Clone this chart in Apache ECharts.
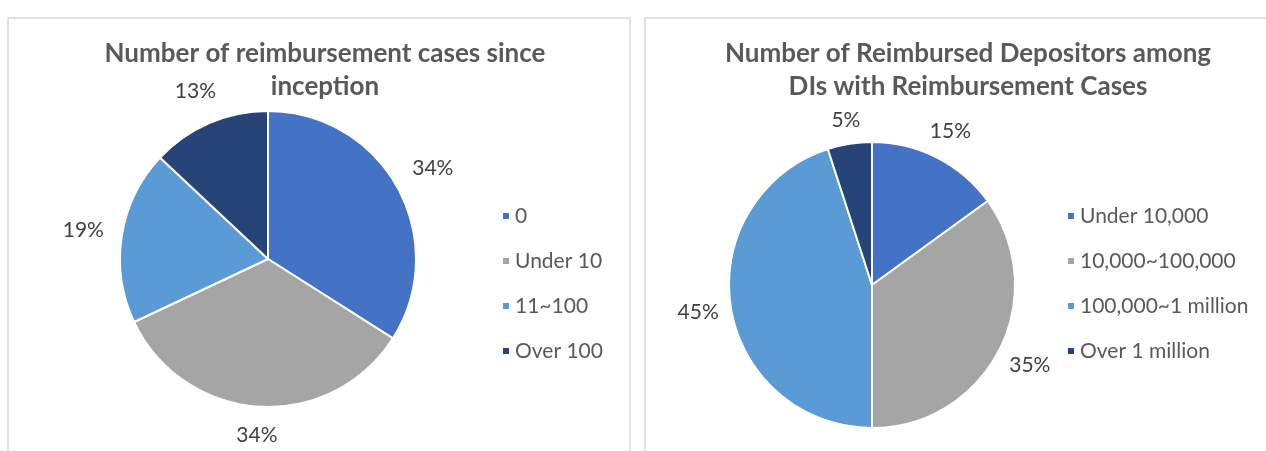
<!DOCTYPE html>
<html>
<head>
<meta charset="utf-8">
<script src="https://cdn.jsdelivr.net/npm/echarts@6/dist/echarts.min.js"></script>
<style>
  html, body { margin: 0; padding: 0; background: #fff; }
  #chart { width: 1266px; height: 451px; }
</style>
</head>
<body>
<div id="chart"></div>
<script>
// left chart: reimbursement cases
var casesTitle = 'Number of reimbursement cases since\ninception';
var casesNames = ['0', 'Under 10', '11~100', 'Over 100'];
var casesValues = [34, 34, 19, 13];

// right chart: reimbursed depositors
var depTitle = 'Number of Reimbursed Depositors among\nDIs with Reimbursement Cases';
var depNames = ['Under 10,000', '10,000~100,000', '100,000~1 million', 'Over 1 million'];
var depValues = [15, 35, 45, 5];

var colors = ['#4472C4', '#A5A5A5', '#5B9BD5', '#264478'];
var FONT = 'Lato';

function pieData(names, values) {
  var out = [];
  for (var i = 0; i < names.length; i++) {
    out.push({ name: names[i], value: values[i] });
  }
  return out;
}

// put each label outside its slice, along the slice's middle direction
function outsideLabel(gap) {
  return function (params) {
    var pts = params.labelLinePoints;
    if (!pts) return {};
    var dx = pts[1][0] - pts[0][0], dy = pts[1][1] - pts[0][1];
    var len = Math.sqrt(dx * dx + dy * dy) || 1;
    dx /= len; dy /= len;
    var w = params.labelRect.width / 2, h = params.labelRect.height / 2;
    var d = gap + Math.abs(dx) * w + Math.abs(dy) * h;
    return {
      x: pts[0][0] + dx * d,
      y: pts[0][1] + dy * d,
      align: 'center',
      verticalAlign: 'middle'
    };
  };
}

function pieSeries(names, values, center, radius, gap) {
  return {
    type: 'pie',
    center: center,
    radius: radius,
    startAngle: 90,
    clockwise: true,
    avoidLabelOverlap: false,
    silent: true,
    itemStyle: { borderColor: '#fff', borderWidth: 2 },
    label: {
      show: true,
      position: 'outside',
      formatter: '{d}%',
      color: '#404040',
      fontFamily: FONT,
      fontSize: 21
    },
    labelLine: { show: true, length: 10, length2: 0, lineStyle: { opacity: 0 } },
    labelLayout: outsideLabel(gap),
    data: pieData(names, values)
  };
}

function legendAt(names, left) {
  return {
    data: names, orient: 'vertical', left: left, top: 200,
    icon: 'rect', itemWidth: 8, itemHeight: 8, itemGap: 23,
    selectedMode: false,
    textStyle: { fontFamily: FONT, fontSize: 21, lineHeight: 22, color: '#595959', padding: [0, 0, 0, 0] }
  };
}

function titleAt(text, left) {
  return {
    text: text, left: left, top: 32, textAlign: 'center',
    textStyle: { fontFamily: FONT, fontWeight: 'bold', fontSize: 26, lineHeight: 33, color: '#595959' }
  };
}

var myChart = echarts.init(document.getElementById('chart'));
var option = {
  color: colors,
  animation: false,
  graphic: [
    { type: 'rect', shape: { x: 8, y: 18, width: 622, height: 450 },
      style: { fill: 'none', stroke: '#d9d9d9', lineWidth: 1.5 } },
    { type: 'rect', shape: { x: 645, y: 18, width: 640, height: 450 },
      style: { fill: 'none', stroke: '#d9d9d9', lineWidth: 1.5 } }
  ],
  title: [titleAt(casesTitle, 320), titleAt(depTitle, 963)],
  legend: [legendAt(casesNames, 496), legendAt(depNames, 1061)],
  series: [
    pieSeries(casesNames, casesValues, [268, 259], 148, 17),
    pieSeries(depNames, depValues, [872, 285], 143, 11)
  ]
};
myChart.setOption(option);
</script>
</body>
</html>
